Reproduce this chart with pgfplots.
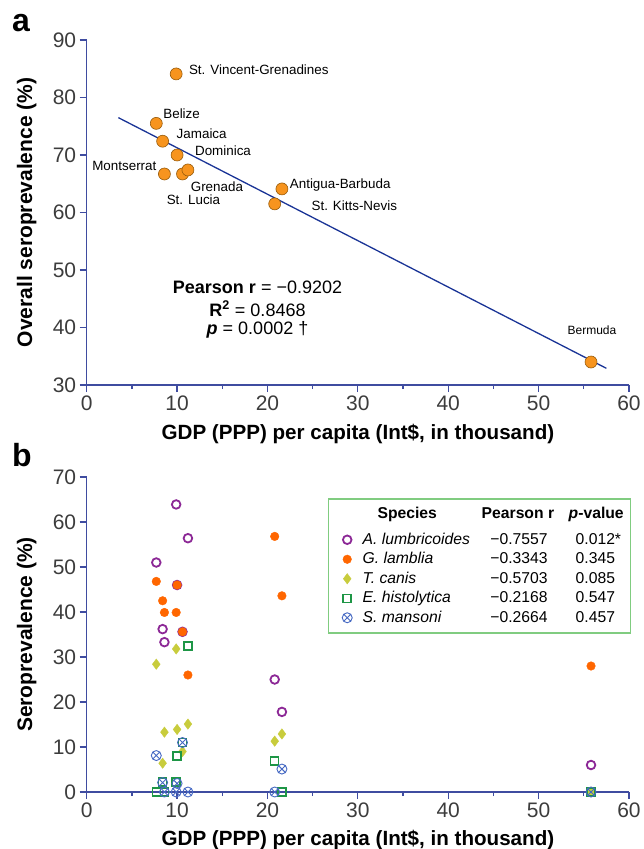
\documentclass[border=0pt]{standalone}
\usepackage{fontspec}
\setmainfont{Liberation Sans}
\usepackage{pgfplots}
\pgfplotsset{compat=1.18}

\definecolor{axiscol}{RGB}{63,76,160}
\definecolor{fitcol}{RGB}{26,52,150}
\definecolor{ptorange}{RGB}{247,148,30}
\definecolor{ptedge}{RGB}{150,90,10}
\definecolor{cpurple}{RGB}{140,40,150}
\definecolor{corange}{RGB}{255,102,0}
\definecolor{cyellow}{RGB}{200,204,60}
\definecolor{cgreen}{RGB}{30,150,70}
\definecolor{cblue}{RGB}{70,105,195}
\definecolor{legframe}{RGB}{128,204,128}
\definecolor{ticktext}{RGB}{60,60,60}

\pgfplotsset{
  myaxis/.style={
    scale only axis,
    axis x line=bottom, axis y line=left,
    axis line style={-, draw=axiscol, line width=1.5pt},
    tick align=outside,
    major tick length=7pt, minor tick length=4pt,
    tick style={draw=axiscol, line width=1.3pt},
    xmin=0, xmax=60, xtick={0,10,...,60}, minor xtick={5,15,...,55},
    tick label style={font=\fontsize{21}{21}\selectfont, text=ticktext},
    /pgf/number format/assume math mode=true,
    clip=false,
  },
  every axis legend/.style={
    cells={anchor=west},
    inner xsep=13.5pt, inner ysep=5.5pt,
    nodes={inner sep=0pt},
    anchor=north west, shape=rectangle,
    fill=white, draw=legframe, line width=1.4pt,
    at={(0.445,0.933)},
    font=\fontsize{15.7}{18}\selectfont,
    row sep=0pt,
    /tikz/every odd column/.append style={column sep=10.5pt},
  },
}

\pgfplotstableread{
x y
9.9 84.1
7.7 75.5
8.4 72.4
10.0 70.0
8.6 66.7
10.6 66.7
11.2 67.4
21.6 64.1
20.8 61.5
55.8 34.0
}\overall

% Panel b: countries Belize, Jamaica, Montserrat, St.Vincent, Dominica, St.Lucia, Grenada, St.Kitts, Antigua, Bermuda
\pgfplotstableread{
x alum glam tcan ehis sman
7.7 51.0 46.8 28.4 0.0 8.1
8.4 36.2 42.5 6.4 2.2 2.1
8.6 33.3 39.9 13.3 0.0 0.0
9.9 63.9 39.9 31.8 2.2 0.0
10.0 46.0 46.0 13.9 8.0 1.9
10.6 35.6 35.6 9.0 11.0 11.0
11.2 56.4 26.0 15.1 32.5 0.0
20.8 25.0 56.8 11.3 6.9 0.0
21.6 17.8 43.6 12.9 0.0 5.1
55.8 6.0 28.0 0.0 0.0 0.0
}\species

% struts: depth 5.5pt, height 14pt (rows); header depth 11.7pt
\newcommand\lstrut{\rule[-5.5pt]{0pt}{19.5pt}}
\newcommand\hstrut{\rule[-11.7pt]{0pt}{25.7pt}}

\begin{document}
\begin{tikzpicture}
\useasboundingbox (0pt,0pt) rectangle (643pt,-849pt);

% ---------------- panel a ----------------
\begin{axis}[myaxis,
  at={(86.7pt,-385pt)}, anchor=south west,
  width=542.3pt, height=345pt,
  ymin=30, ymax=90, ytick={30,40,...,90},
]
\addplot[fitcol, line width=1.3pt] coordinates {(3.5,76.5) (57.5,32.9)};
\addplot[only marks, mark=*, mark size=6pt,
  mark options={fill=ptorange, draw=ptedge, line width=0.6pt}] table[x=x,y=y] {\overall};

\begin{scope}[every node/.style={inner sep=0pt, font=\fontsize{13.4}{16}\selectfont}]
\node[anchor=base west] at (axis cs:11.3,83.95) {St. Vincent-Grenadines};
\node[anchor=base west] at (axis cs:8.46,76.42) {Belize};
\node[anchor=base west] at (axis cs:9.94,72.94) {Jamaica};
\node[anchor=base west] at (axis cs:11.97,69.91) {Dominica};
\node[anchor=base east] at (axis cs:7.73,67.30) {Montserrat};
\node[anchor=base west] at (axis cs:11.5,63.65) {Grenada};
\node[anchor=base west] at (axis cs:8.84,61.34) {St. Lucia};
\node[anchor=base west] at (axis cs:22.46,64.12) {Antigua-Barbuda};
\node[anchor=base west] at (axis cs:24.86,60.30) {St. Kitts-Nevis};
\node[anchor=base, font=\fontsize{12}{14}\selectfont] at (axis cs:55.9,38.78) {Bermuda};
\end{scope}

\begin{scope}[every node/.style={inner sep=0pt, anchor=base, font=\fontsize{18}{21}\selectfont}]
\node at (axis cs:18.9,45.9) {\textbf{Pearson r} = −0.9202};
\node at (axis cs:18.9,42.0) {\textbf{R\textsuperscript{2}} = 0.8468};
\node at (axis cs:18.9,38.7) {\textbf{\textit{p}} = 0.0002 †};
\end{scope}
\end{axis}

% ---------------- panel b ----------------
\begin{axis}[myaxis,
  at={(86.7pt,-792pt)}, anchor=south west,
  width=542.3pt, height=315pt,
  ymin=0, ymax=70, ytick={0,10,...,70},
  legend image code/.code={\draw[#1] plot coordinates {(0pt,0pt)};},
]
\addlegendimage{empty legend}
\addlegendentry{\hstrut\makebox[119pt][l]{\makebox[89pt][c]{\textbf{Species}}}\makebox[87pt][l]{\textbf{Pearson r}}\makebox[48.5pt][l]{\textbf{\textit{p}-value}}}

\addplot[only marks, mark=o, mark size=4.3pt, mark options={draw=cpurple, line width=1.8pt}] table[x=x,y=alum] {\species};
\addlegendentry{\lstrut\makebox[127.7pt][l]{\textit{A. lumbricoides}}\makebox[85.3pt][l]{−0.7557}\makebox[41.5pt][l]{0.012*}}

\addplot[only marks, mark=*, mark size=4.3pt, mark options={draw=corange, fill=corange, line width=0.4pt}] table[x=x,y=glam] {\species};
\addlegendentry{\lstrut\makebox[127.7pt][l]{\textit{G. lamblia}}\makebox[85.3pt][l]{−0.3343}\makebox[41.5pt][l]{0.345}}

\addplot[only marks, mark=diamond*, mark size=5.2pt, mark options={draw=cyellow, fill=cyellow, line width=0.4pt}] table[x=x,y=tcan] {\species};
\addlegendentry{\lstrut\makebox[127.7pt][l]{\textit{T. canis}}\makebox[85.3pt][l]{−0.5703}\makebox[41.5pt][l]{0.085}}

\addplot[only marks, mark=square, mark size=4pt, mark options={draw=cgreen, line width=1.5pt}] table[x=x,y=ehis] {\species};
\addlegendentry{\lstrut\makebox[127.7pt][l]{\textit{E. histolytica}}\makebox[85.3pt][l]{−0.2168}\makebox[41.5pt][l]{0.547}}

\addplot[only marks, mark=otimes, mark size=5pt, mark options={draw=cblue, line width=0.9pt}] table[x=x,y=sman] {\species};
\addlegendentry{\lstrut\makebox[127.7pt][l]{\textit{S. mansoni}}\makebox[85.3pt][l]{−0.2664}\makebox[41.5pt][l]{0.457}}
\end{axis}

% ---------------- labels ----------------
\node[anchor=base west, inner sep=0pt, font=\fontsize{32}{36}\bfseries] at (12pt,-31pt) {a};
\node[anchor=base west, inner sep=0pt, font=\fontsize{32}{36}\bfseries] at (12pt,-466.7pt) {b};
\node[anchor=base, inner sep=0pt, rotate=90, font=\fontsize{21}{24}\bfseries] at (32pt,-212.5pt) {Overall seroprevalence (\%)};
\node[anchor=base, inner sep=0pt, rotate=90, font=\fontsize{21}{24}\bfseries] at (32pt,-634.5pt) {Seroprevalence (\%)};
\node[anchor=base, inner sep=0pt, font=\fontsize{20.6}{24}\bfseries] at (357.9pt,-439pt) {GDP (PPP) per capita (Int\$, in thousand)};
\node[anchor=base, inner sep=0pt, font=\fontsize{20.6}{24}\bfseries] at (357.9pt,-845pt) {GDP (PPP) per capita (Int\$, in thousand)};
\end{tikzpicture}
\end{document}
